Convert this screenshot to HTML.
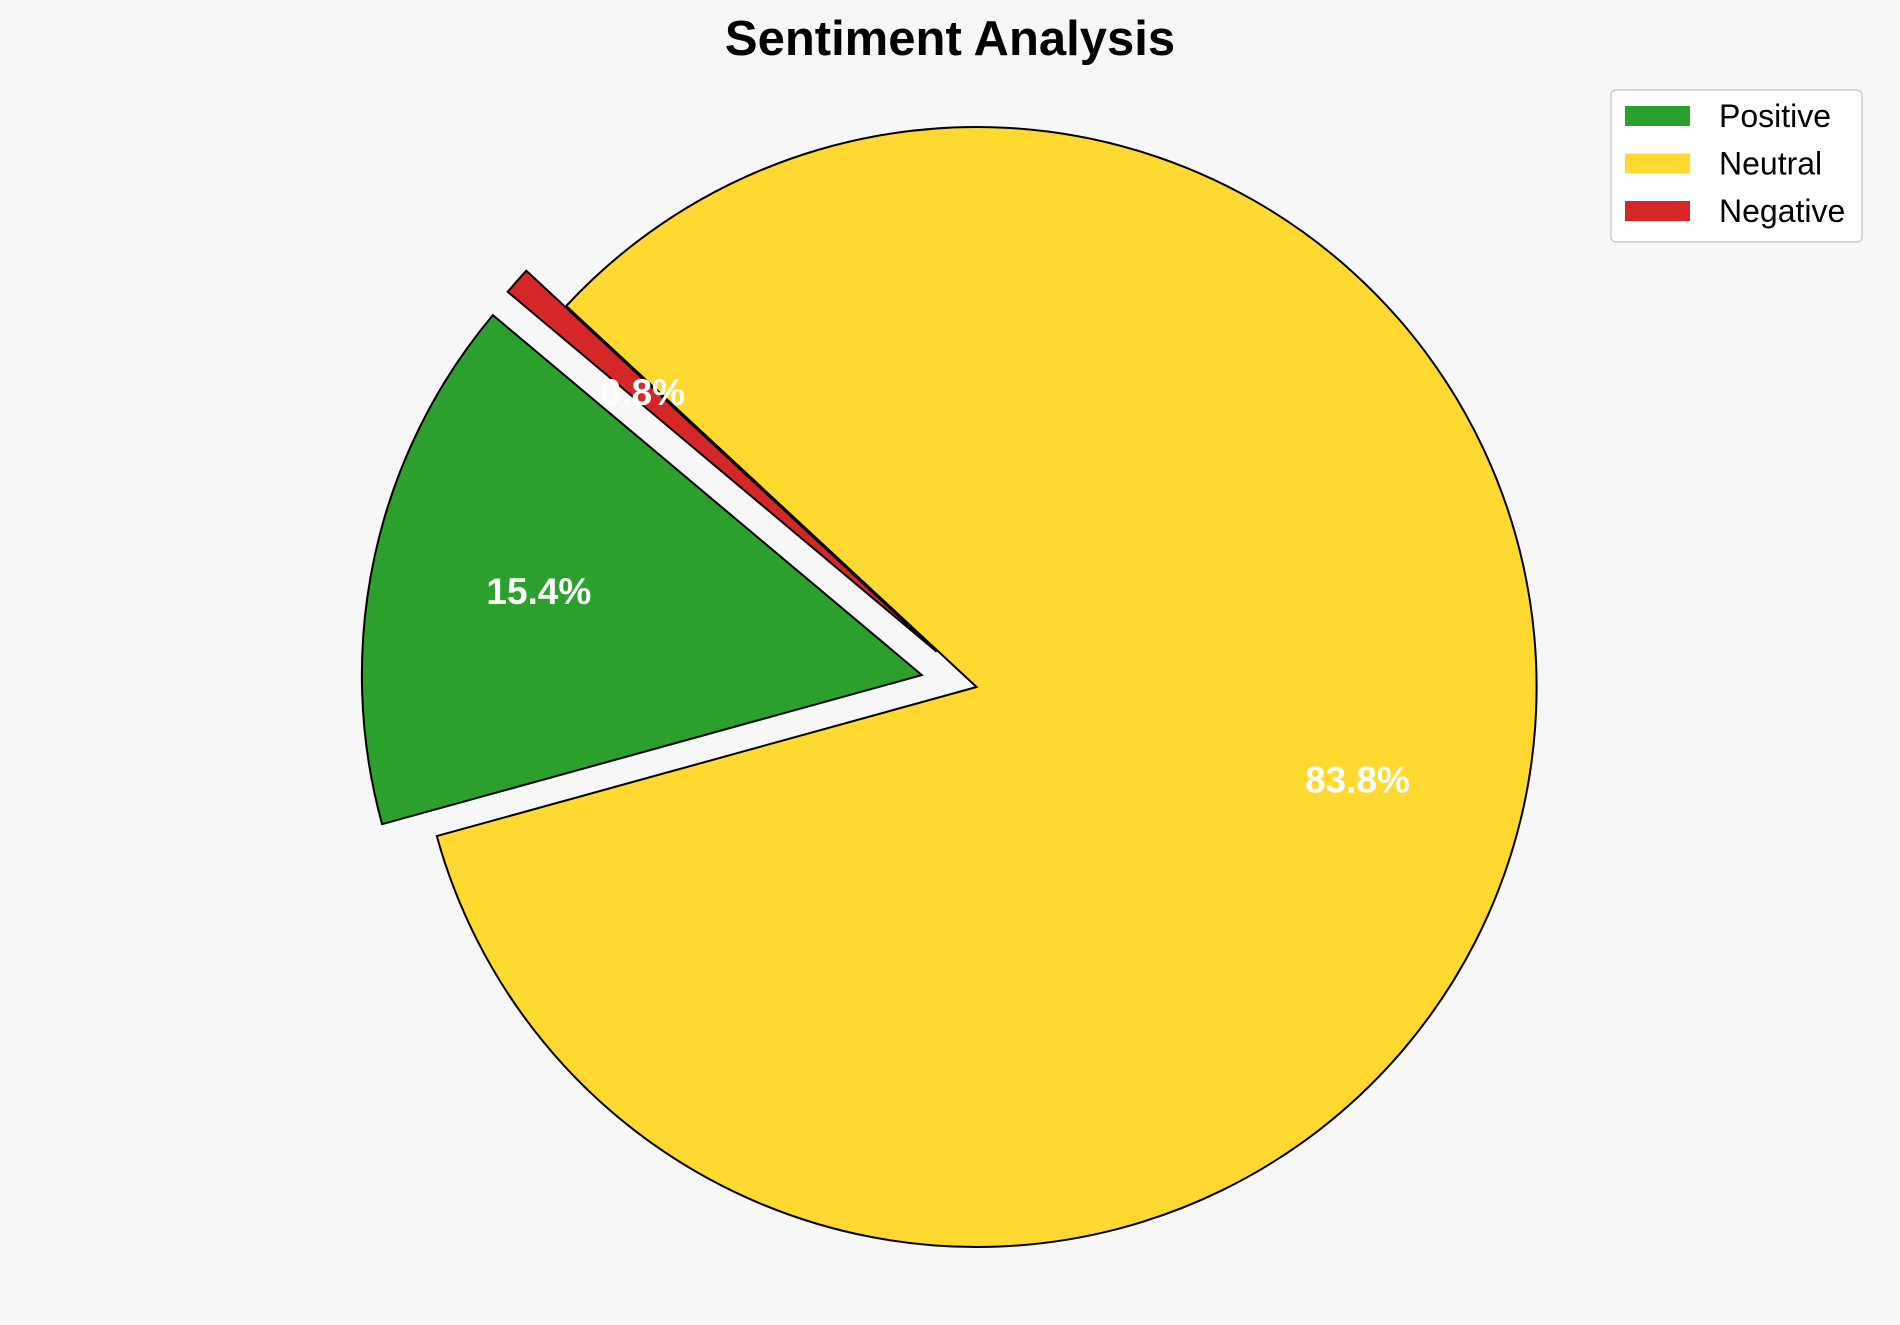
<!DOCTYPE html>
<html><head><meta charset="utf-8"><style>
html,body{margin:0;padding:0;background:#f7f7f7;}
svg{display:block;font-family:"Liberation Sans",Arial,sans-serif;}
</style></head><body>
<svg id="chart" width="1900" height="1325" viewBox="0 0 1900 1325">
<rect width="1900" height="1325" fill="#f7f7f7"/>
<text x="950" y="55" text-anchor="middle" font-size="49" font-weight="bold" fill="#000">Sentiment Analysis</text>
<g id="slices"></g>
<g id="labels"></g>
<g id="legend">
<rect x="1611" y="90" width="251" height="152" rx="5" fill="#fff" stroke="#ccc" stroke-width="1.5"/>
</g>
</svg>
<script>
const categories = ["Positive", "Neutral", "Negative"];
const values = [15.4, 83.8, 0.8];
const explode = [0.1, 0, 0.095];
const colors = ["#2ca02c", "#ffd930", "#d62728"];
const startAngle = 140;
const cx = 976.6, cy = 687, R = 560, pctDist = 0.7;
const NS = "http://www.w3.org/2000/svg";
const slices = document.getElementById("slices");
const labels = document.getElementById("labels");
const legend = document.getElementById("legend");
const total = values.reduce((a, b) => a + b, 0);
function pt(x0, y0, r, deg) { const a = deg * Math.PI / 180; return [x0 + r * Math.cos(a), y0 - r * Math.sin(a)]; }
let a0 = startAngle;
values.forEach((v, i) => {
  const span = v / total * 360;
  const a1 = a0 + span, mid = (a0 + a1) / 2;
  const [ox, oy] = pt(cx, cy, explode[i] * R, mid);
  const [x0, y0] = pt(ox, oy, R, a0);
  const [x1, y1] = pt(ox, oy, R, a1);
  const large = span > 180 ? 1 : 0;
  const p = document.createElementNS(NS, "path");
  p.setAttribute("d", `M${ox},${oy} L${x0},${y0} A${R},${R} 0 ${large} 0 ${x1},${y1} Z`);
  p.setAttribute("fill", colors[i]);
  p.setAttribute("stroke", "#000");
  p.setAttribute("stroke-width", "2");
  
  
  slices.appendChild(p);
  const [lx, ly] = pt(ox, oy, R * pctDist, mid);
  const t = document.createElementNS(NS, "text");
  t.setAttribute("x", lx); t.setAttribute("y", ly);
  t.setAttribute("text-anchor", "middle");
  t.setAttribute("dominant-baseline", "central");
  t.setAttribute("font-size", "37"); t.setAttribute("font-weight", "bold");
  t.setAttribute("fill", "#fff");
  t.textContent = v.toFixed(1) + "%";
  
  
  labels.appendChild(t);
  const ry = 116 + i * 47.5;
  const r = document.createElementNS(NS, "rect");
  r.setAttribute("x", 1625); r.setAttribute("y", ry - 10);
  r.setAttribute("width", 65); r.setAttribute("height", 20);
  r.setAttribute("fill", colors[i]);
  
  
  legend.appendChild(r);
  const lt = document.createElementNS(NS, "text");
  lt.setAttribute("x", 1719); lt.setAttribute("y", ry);
  lt.setAttribute("dominant-baseline", "central");
  lt.setAttribute("font-size", "32"); lt.setAttribute("fill", "#000");
  lt.textContent = categories[i];
  
  
  legend.appendChild(lt);
  a0 = a1;
});
</script>
</body></html>
